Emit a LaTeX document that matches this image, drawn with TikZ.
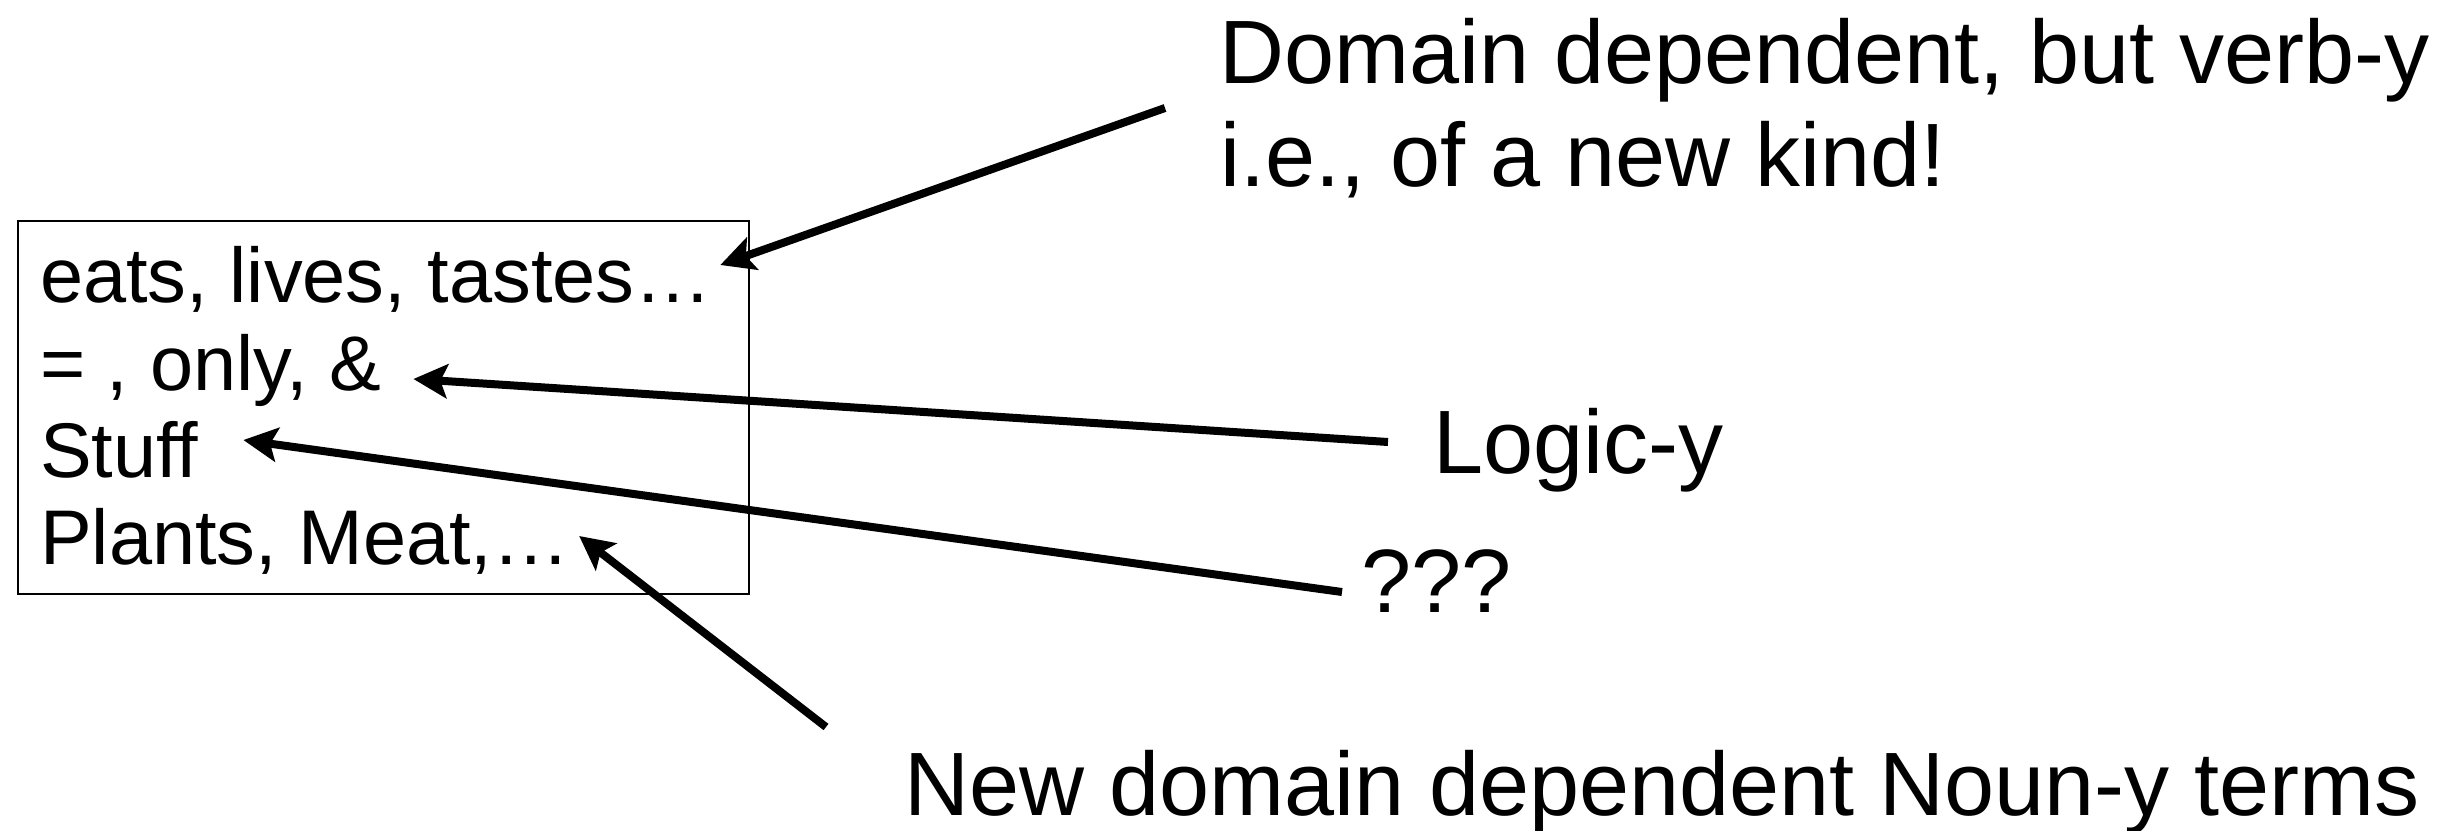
\documentclass[tikz,border=0pt]{standalone}
\usepackage{fontspec}
\setmainfont{Liberation Sans}
\usetikzlibrary{calc,arrows.meta}
\tikzset{
  boxtext/.style={inner sep=0pt, anchor=base west, font=\fontsize{77.5}{88}\selectfont},
  labeltext/.style={inner sep=0pt, anchor=base west, font=\fontsize{90}{103}\selectfont},
  pointer/.style={line width=8pt, -{Stealth[length=34pt,width=34pt,inset=7pt]}},
  framebox/.style={draw, line width=2.7pt, inner sep=0pt, minimum width=731pt, minimum height=373pt}
}
\begin{document}
\begin{tikzpicture}[x=1pt,y=-1pt]
  \useasboundingbox (0,0) rectangle (2464,830);
  % vocabulary box
  \node[framebox] (box) at (383.5,407.5) {};
  \node[boxtext] (l1) at (40,302) {eats, lives, tastes…};
  \node[boxtext] (l2) at (40,390) {= , only, \&};
  \node[boxtext] (l3) at (40,477) {Stuff};
  \node[boxtext] (l4) at (40,564) {Plants, Meat,…};
  % explanations
  \node[labeltext] (dom1) at (1219,83) {Domain dependent, but verb-y};
  \node[labeltext] (dom2) at (1220,186) {i.e., of a new kind!};
  \node[labeltext] (logic) at (1433,473) {Logic-y};
  \node[labeltext] (ques) at (1361,612) {???};
  \node[labeltext] (noun) at (904,815) {New domain dependent Noun-y terms};
  % pointers
  \draw[pointer] ($(dom1.base west)+(-54,25)$) -- ($(l1.base east)+(8,-37)$);
  \draw[pointer] ($(logic.base west)+(-45,-31)$) -- ($(l2.base east)+(32,-11)$);
  \draw[pointer] ($(ques.base west)+(-19,-20)$) -- ($(l3.base east)+(45,-37)$);
  \draw[pointer] ($(noun.base west)+(-78,-88)$) -- ($(l4.base east)+(9,-28)$);
\end{tikzpicture}
\end{document}
